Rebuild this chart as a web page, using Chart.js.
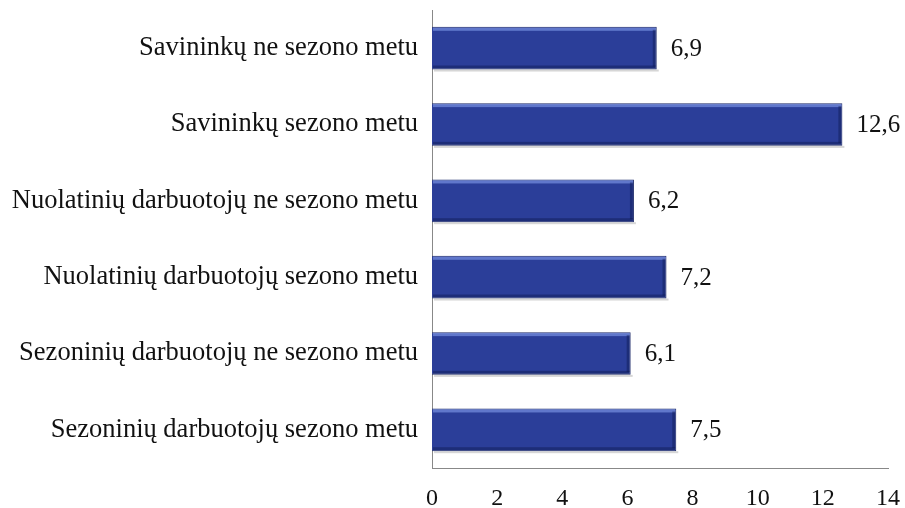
<!DOCTYPE html>
<html>
<head>
<meta charset="utf-8">
<script src="https://cdn.jsdelivr.net/npm/chart.js@4/dist/chart.umd.min.js"></script>
<style>
  html, body { margin: 0; padding: 0; background: #fff; }
  #wrap { width: 905px; height: 508px; }
</style>
</head>
<body>
<div id="wrap"><canvas id="c"></canvas></div>
<script>
const categories = [
    'Savininkų ne sezono metu',
    'Savininkų sezono metu',
    'Nuolatinių darbuotojų ne sezono metu',
    'Nuolatinių darbuotojų sezono metu',
    'Sezoninių darbuotojų ne sezono metu',
    'Sezoninių darbuotojų sezono metu'
];
const values = [6.9, 12.6, 6.2, 7.2, 6.1, 7.5];
const xTicks = [0, 2, 4, 6, 8, 10, 12, 14];

const serif = '"Liberation Serif", "Times New Roman", serif';

// bevel look + value labels drawn next to each bar
const barExtras = {
    id: 'barExtras',
    afterDatasetsDraw(chart) {
        const ctx = chart.ctx;
        const meta = chart.getDatasetMeta(0);
        meta.data.forEach((bar, i) => {
            const left = bar.base, right = bar.x;
            const top = bar.y - bar.height / 2, bottom = bar.y + bar.height / 2;
            ctx.save();
            ctx.fillStyle = 'rgba(0,0,0,0.16)';
            ctx.fillRect(left + 2, bottom, right - left, 2);
            ctx.fillStyle = 'rgba(125,150,230,0.65)';
            ctx.fillRect(left + 1, top + 1, right - left - 2, 3);
            ctx.fillStyle = 'rgba(10,20,70,0.4)';
            ctx.fillRect(left + 1, bottom - 4, right - left - 2, 3);
            ctx.fillRect(right - 4, top + 3, 3, bottom - top - 6);
            ctx.font = '25px ' + serif;
            ctx.fillStyle = '#111';
            ctx.textAlign = 'left';
            ctx.textBaseline = 'middle';
            ctx.fillText(String(values[i]).replace('.', ','), right + 14, bar.y + 1);
            ctx.restore();
        });
    }
};

new Chart(document.getElementById('c'), {
    type: 'bar',
    data: {
        labels: categories,
        datasets: [{
            data: values,
            backgroundColor: '#2B3E99',
            borderColor: '#1B2868',
            borderWidth: 1,
            barPercentage: 0.56,
            categoryPercentage: 1
        }]
    },
    options: {
        indexAxis: 'y',
        responsive: true,
        maintainAspectRatio: false,
        animation: false,
        layout: { padding: { left: 12, right: 17, top: 10, bottom: 0 } },
        plugins: { legend: { display: false }, tooltip: { enabled: false } },
        scales: {
            x: {
                min: 0,
                max: 14,
                afterBuildTicks: (scale) => { scale.ticks = xTicks.map(v => ({ value: v })); },
                grid: { display: false, drawTicks: false },
                border: { display: true, color: '#888', width: 1 },
                ticks: { font: { family: serif, size: 24 }, color: '#111', padding: 16, maxRotation: 0 },
                afterFit: (scale) => { scale.height = 40; scale.paddingLeft = 0; scale.paddingRight = 0; }
            },
            y: {
                grid: { display: false, drawTicks: false },
                border: { display: true, color: '#888', width: 1 },
                ticks: { font: { family: serif, size: 26.5 }, color: '#111', padding: 14 },
                afterFit: (scale) => { scale.width = 420; scale.paddingTop = 0; scale.paddingBottom = 0; }
            }
        }
    },
    plugins: [barExtras]
});
</script>
</body>
</html>
